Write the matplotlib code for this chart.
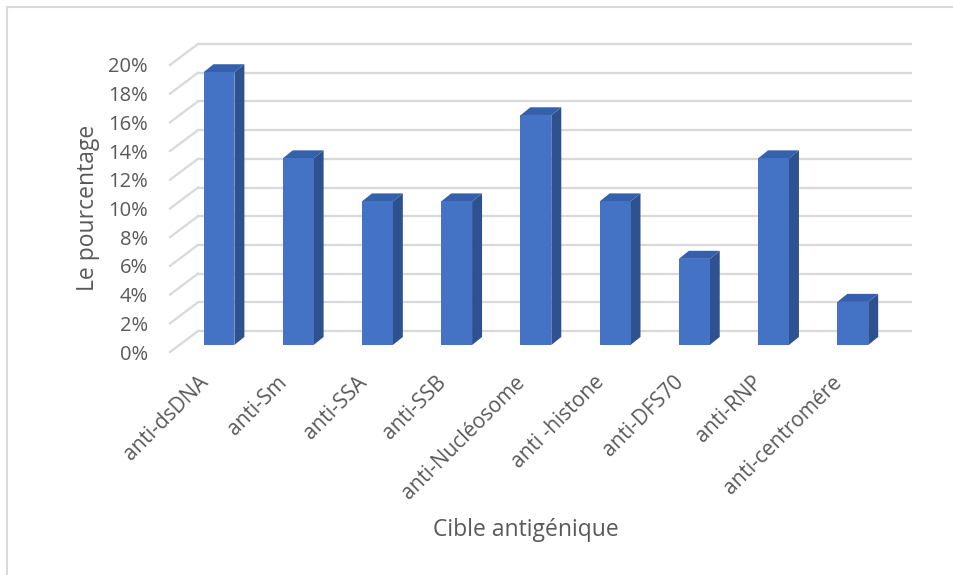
import matplotlib
matplotlib.use("Agg")
import matplotlib.pyplot as plt
from matplotlib.patches import Polygon, Rectangle
import numpy as np

plt.rcParams['font.family'] = ['Open Sans', 'DejaVu Sans']

categories = ["anti-dsDNA", "anti-Sm", "anti-SSA", "anti-SSB", "anti-Nucléosome",
              "anti -histone", "anti-DFS70", "anti-RNP", "anti-centromére"]
values = [19, 13, 10, 10, 16, 10, 6, 13, 3]   # en %
yticks = list(range(0, 21, 2))

txt = "#595959"
grid = "#d9d9d9"
c_front = "#4472c4"
c_side = "#2e5190"
c_top = "#3560ab"

fig = plt.figure(figsize=(9.54, 5.75), dpi=100)
ax = fig.add_axes([170 / 954, 223 / 575, 713 / 954, 308 / 575])
ax.set_xlim(-0.5, 8.5)
ax.set_ylim(0, 21.46)

# profondeur du "3D" (en unites de donnees)
dx, dy = 0.353, 1.46          # paroi du fond
bx, by = 0.118, 0.49          # face avant des barres
sx, sy = 0.126, 0.56          # epaisseur des barres
w = 0.39

# grille : paroi gauche + fond
for t in yticks:
    ax.plot([-0.5, -0.5 + dx], [t, t + dy], color=grid, lw=1.6, zorder=1, clip_on=False)
    ax.plot([-0.5 + dx, 8.5 + dx], [t + dy, t + dy], color=grid, lw=1.6, zorder=1, clip_on=False)

for i, v in enumerate(values):
    xl = i - w / 2 + bx
    xr = i + w / 2 + bx
    y0 = by
    y1 = by + v
    ax.add_patch(Polygon([(xr, y0), (xr, y1), (xr + sx, y1 + sy), (xr + sx, y0 + sy)],
                         closed=True, facecolor=c_side, edgecolor="none", zorder=3))
    ax.add_patch(Polygon([(xl, y1), (xr, y1), (xr + sx, y1 + sy), (xl + sx, y1 + sy)],
                         closed=True, facecolor=c_top, edgecolor="none", zorder=3))
    ax.add_patch(Rectangle((xl, y0), w, v, facecolor=c_front, edgecolor="none", zorder=4))

ax.set_yticks(yticks)
ax.set_yticklabels([f"{t}%" for t in yticks])
ax.tick_params(axis="y", length=0, pad=16, labelsize=14.5, labelcolor=txt)
ax.set_xticks([])
for s in ax.spines.values():
    s.set_visible(False)
ax.patch.set_alpha(0)

for i, name in enumerate(categories):
    ax.text(i - 0.06, -1.9, name, rotation=45, rotation_mode="anchor",
            ha="right", va="center", fontsize=15, color=txt)

fig.text(88 / 954, 1 - 208 / 575, "Le pourcentage", rotation=90, ha="center", va="center",
         fontsize=16.5, color=txt)
fig.text(526 / 954, 1 - 530 / 575, "Cible antigénique", ha="center", va="center",
         fontsize=16.5, color=txt)

# cadre (coupe a droite et en bas)
fig.patches.append(Rectangle((7 / 954, -10 / 575), 960 / 954, 578 / 575, transform=fig.transFigure,
                             fill=False, edgecolor=grid, lw=1.5))

fig.savefig("out.png", dpi=100)
